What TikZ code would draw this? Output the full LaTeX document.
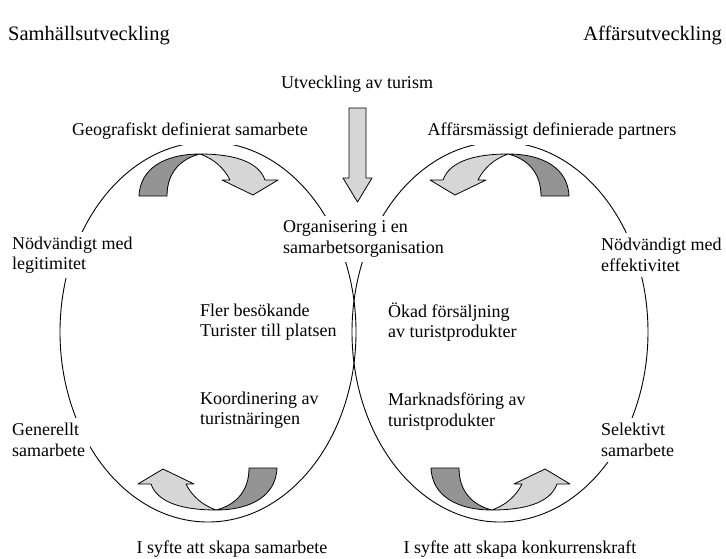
\documentclass[tikz,border=0pt]{standalone}
\usepackage{fontspec}
\setmainfont{Liberation Serif}
\usetikzlibrary{positioning,shapes.geometric}

\begin{document}
\begin{tikzpicture}[
    x=1pt, y=-1pt,
    font=\fontsize{18}{20.5}\selectfont,
    ring/.style={draw, ellipse, line width=0.9pt, minimum width=296pt, minimum height=380pt, inner sep=0pt, outer sep=0pt},
    head_lbl/.style={font=\fontsize{20.5}{24}\selectfont, inner sep=0pt},
    lbl/.style={align=left, inner sep=5pt},
    cut_lbl/.style={lbl, fill=white},
    dark_band/.style={draw, line width=0.8pt, fill=black!42, line join=round},
    light_band/.style={draw, line width=0.8pt, fill=black!16, line join=round},
    ribbon/.pic={
        \path [dark_band] (-69,-136) .. controls (-68,-163) and (-44,-178) .. (-8,-178)
            .. controls (-28,-173) and (-41,-159) .. (-41,-136) -- cycle;
        \path [light_band] (-8,-178) .. controls (22,-178) and (50,-172) .. (57,-152)
            -- (70,-152) -- (45,-137) -- (14,-152) -- (22,-152)
            .. controls (16,-164) and (6,-173) .. (-8,-178) -- cycle;
    }
]
\useasboundingbox (0,0) rectangle (726,558);

\node (samh) [ring] at (208,332) {};
\node (aff)  [ring] at (500,332) {};

\pic at (samh.center) {ribbon};
\pic [rotate=180] at (samh.center) {ribbon};
\pic [xscale=-1] at (aff.center) {ribbon};
\pic [yscale=-1] at (aff.center) {ribbon};

\node (samh_t) [head_lbl, anchor=base west] at (8,40) {Samhällsutveckling};
\node (aff_t)  [head_lbl, anchor=base east] at (722,40) {Affärsutveckling};

\node (utv)  [anchor=base] at (357,88) {Utveckling av turism};
\draw [light_band] (349,108) -- (366,108) -- (366,178) -- (372,178) -- (357.5,202) -- (343,178) -- (349,178) -- cycle;

\node (geo)  [cut_lbl, anchor=base, inner sep=6pt] at (190,135) {Geografiskt definierat samarbete};
\node (part) [cut_lbl, anchor=base, inner sep=6pt] at (552,135) {Affärsmässigt definierade partners};

\node (org)  [cut_lbl, anchor=west] at (278,239) {Organisering i en\\samarbetsorganisation};

\node (nod_l) [cut_lbl, anchor=west] at (7,255) {Nödvändigt med\\legitimitet};
\node (nod_r) [cut_lbl, anchor=west] at (596,255) {Nödvändigt med\\effektivitet};
\node (gen)   [cut_lbl, anchor=west] at (7,440) {Generellt\\samarbete};
\node (sel)   [cut_lbl, anchor=west] at (596,440) {Selektivt\\samarbete};

\node (fler)  [lbl, anchor=west] at (195,322) {Fler besökande\\Turister till platsen};
\node (koord) [lbl, below=41pt of fler.south west, anchor=north west] {Koordinering av\\turistnäringen};
\node (okad)  [lbl, anchor=west] at (383,322) {Ökad försäljning\\av turistprodukter};
\node (mark)  [lbl, below=41pt of okad.south west, anchor=north west] {Marknadsföring av\\turistprodukter};

\node (syfte_l) [anchor=base] at (232,553) {I syfte att skapa samarbete};
\node (syfte_r) [anchor=base] at (520,553) {I syfte att skapa konkurrenskraft};

\end{tikzpicture}
\end{document}
